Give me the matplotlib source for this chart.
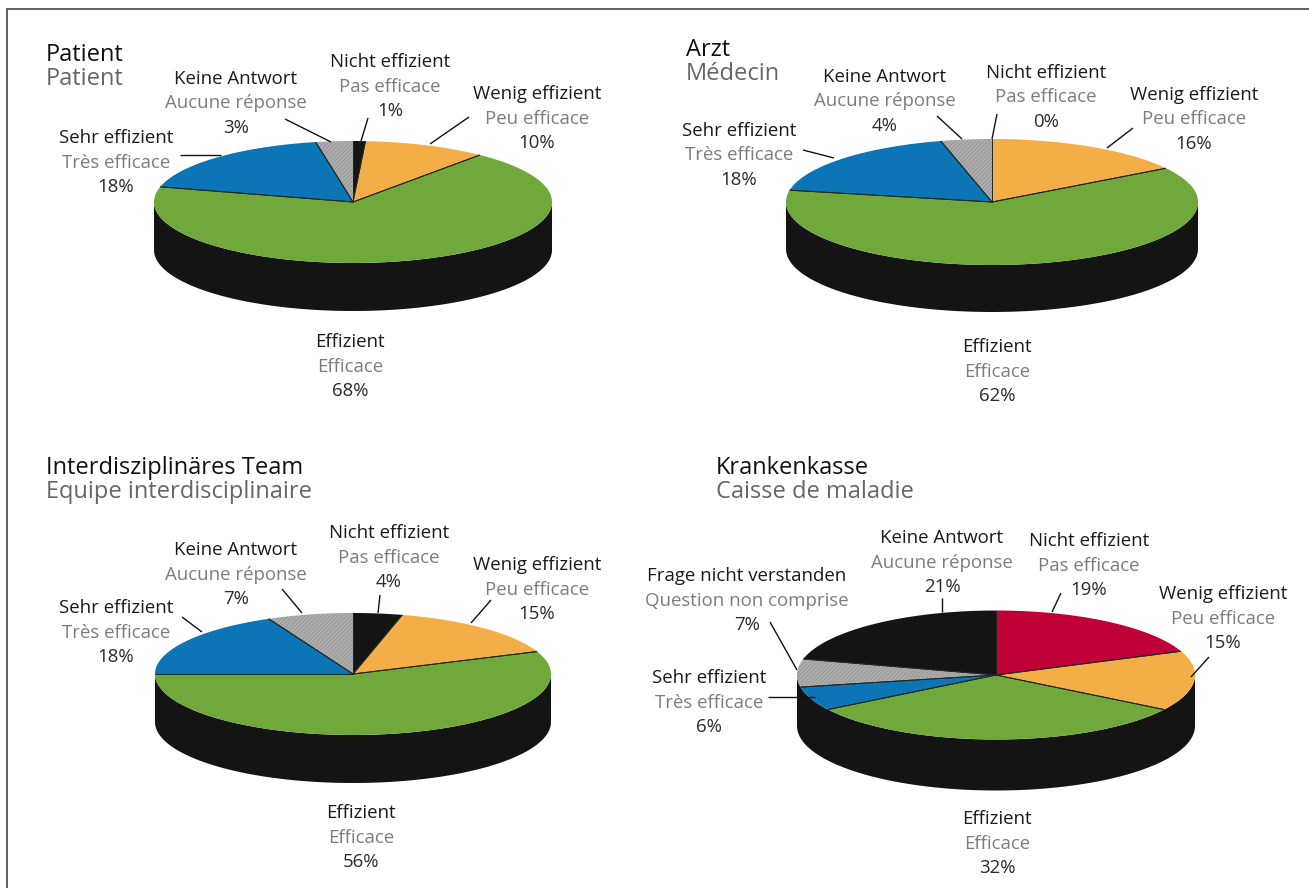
#!/usr/bin/env python3
"""Vier 3D-Kreisdiagramme: Effizienz aus Sicht von Patient, Arzt, Team, Krankenkasse."""
import numpy as np
import matplotlib
matplotlib.use("Agg")
import matplotlib.pyplot as plt
from matplotlib.patches import Polygon

plt.rcParams["font.family"] = ["Open Sans", "DejaVu Sans"]
plt.rcParams["hatch.linewidth"] = 0.25

# Daten
labels_de = ["Nicht effizient", "Wenig effizient", "Effizient", "Sehr effizient", "Keine Antwort"]
labels_fr = ["Pas efficace", "Peu efficace", "Efficace", "Très efficace", "Aucune réponse"]
labels_de_kasse = ["Nicht effizient", "Wenig effizient", "Effizient", "Sehr effizient",
                   "Frage nicht verstanden", "Keine Antwort"]
labels_fr_kasse = ["Pas efficace", "Peu efficace", "Efficace", "Très efficace",
                   "Question non comprise", "Aucune réponse"]

patient_values = [1, 10, 68, 18, 3]
arzt_values = [0, 16, 62, 18, 4]
team_values = [4, 15, 56, 18, 7]
kasse_values = [19, 15, 32, 6, 7, 21]

BLACK = "#141414"
ORANGE = "#F4AE48"
GREEN = "#70A83C"
BLUE = "#0B75B6"
GRAY = "#ABACAB"
RED = "#C20038"
colors_std = [BLACK, ORANGE, GREEN, BLUE, GRAY]
colors_kasse = [RED, ORANGE, GREEN, BLUE, GRAY, BLACK]

# Layout in Pixeln: Mitte x/y, Halbachsen, Tiefe
patient_geom = (353, 202, 199, 61, 48)
arzt_geom = (992, 202, 206, 63, 47)
team_geom = (353, 674, 198, 61, 48)
kasse_geom = (996, 675, 199, 64.5, 51)

# Beschriftung: Mitte x, y der ersten Zeile (gleiche Reihenfolge wie die Werte)
patient_pos = [(390, 60), (537, 92), (350, 340), (116, 136), (236, 77)]
arzt_pos = [(1046, 71), (1194, 93), (997, 345), (739, 129), (885, 75)]
team_pos = [(389, 531), (537, 563), (361, 811), (116, 606), (236, 548)]
kasse_pos = [(1089, 539), (1223, 592), (997, 817), (709, 676), (747, 574), (942, 536)]

# Führungslinien
patient_lead = [(368, 118, 361, 141), (469, 117, 430, 144), (180, 155, 221, 155), (285, 119, 331, 142)]
arzt_lead = [(997, 114, 992, 139), (1133, 128, 1107, 148), (803, 150, 834, 158), (937, 116, 962, 139)]
team_lead = [(380, 595, 378, 613), (491, 600, 471, 623), (182, 617, 202, 632), (282, 589, 302, 613)]
kasse_lead = [(1061, 593, 1052, 612), (1209, 657, 1191, 677), (768, 697, 815, 697),
              (770, 622, 797, 670), (942, 598, 942, 612)]


def ellipse_pts(geom, start, stop, dy=0):
    """Punkte auf dem Ellipsenbogen, Winkel im Uhrzeigersinn ab 12 Uhr (Prozent)."""
    cx, cy, a, b, _ = geom
    n = max(int(abs(stop - start) * 3), 2)
    t = np.linspace(start, stop, n) / 100 * 2 * np.pi
    return np.column_stack([cx + a * np.sin(t), cy + dy - b * np.cos(t)])


def draw_pie(ax, geom, values, colors):
    depth = geom[4]
    # Seitenwand: vordere Hälfte oben und unten
    top = ellipse_pts(geom, 25, 75)
    bottom = ellipse_pts(geom, 75, 25, dy=depth)
    ax.add_patch(Polygon(np.vstack([top, bottom]), closed=True, fc=BLACK, ec="none", zorder=1))

    start = 0
    for val, col in zip(values, colors):
        if val > 0:
            arc = ellipse_pts(geom, start, start + val)
            pts = np.vstack([[geom[0], geom[1]], arc])
            hatch = "////////" if col == GRAY else None
            ax.add_patch(Polygon(pts, closed=True, fc=col, ec="#7a7a7a" if col == GRAY else "none",
                                 lw=0, hatch=hatch, zorder=2))
            # nur die Trennlinien zum Mittelpunkt, der Aussenrand bleibt ohne Kontur
            for end in (arc[0], arc[-1]):
                ax.plot([geom[0], end[0]], [geom[1], end[1]], color="#1c2a20", lw=0.7,
                        zorder=3, solid_capstyle="butt")
        start += val


def draw_labels(ax, values, de, fr, pos):
    for val, d, f, (x, y) in zip(values, de, fr, pos):
        y += 2
        ax.text(x, y, d, ha="center", va="center", fontsize=FS, color="#1a1a1a")
        ax.text(x, y + 24.5, f, ha="center", va="center", fontsize=FS, color="#7c7c7c")
        ax.text(x, y + 49, f"{val}%", ha="center", va="center", fontsize=FS, color="#2a2a2a")


def draw_leaders(ax, leads):
    for x0, y0, x1, y1 in leads:
        ax.plot([x0, x1], [y0, y1], color="#111111", lw=1.0, zorder=4, solid_capstyle="butt")


FS = 13.4
TITLE_FS = 17

fig = plt.figure(figsize=(13.09, 8.88), dpi=100)
ax = fig.add_axes([0, 0, 1, 1])
ax.set_xlim(0, 1309)
ax.set_ylim(888, 0)
ax.axis("off")

# Rahmen oben und links
ax.plot([1309, 6.5, 6.5], [9.5, 9.5, 888], color="#555555", lw=1.3, solid_joinstyle="miter")

charts = [
    (patient_geom, patient_values, colors_std, labels_de, labels_fr, patient_pos, patient_lead),
    (arzt_geom, arzt_values, colors_std, labels_de, labels_fr, arzt_pos, arzt_lead),
    (team_geom, team_values, colors_std, labels_de, labels_fr, team_pos, team_lead),
    (kasse_geom, kasse_values, colors_kasse, labels_de_kasse, labels_fr_kasse, kasse_pos, kasse_lead),
]
for geom, values, colors, de, fr, pos, leads in charts:
    draw_pie(ax, geom, values, colors)
    draw_labels(ax, values, de, fr, pos)
    draw_leaders(ax, leads)

titles = [
    ("Patient", "Patient", 46, 55),
    ("Arzt", "Médecin", 686, 50),
    ("Interdisziplinäres Team", "Equipe interdisciplinaire", 46, 468),
    ("Krankenkasse", "Caisse de maladie", 716, 468),
]
for de, fr, x, y in titles:
    ax.text(x, y, de, ha="left", va="center", fontsize=TITLE_FS, color="#111111")
    ax.text(x, y + 24, fr, ha="left", va="center", fontsize=TITLE_FS, color="#666666")

fig.savefig("out.png", dpi=100)
